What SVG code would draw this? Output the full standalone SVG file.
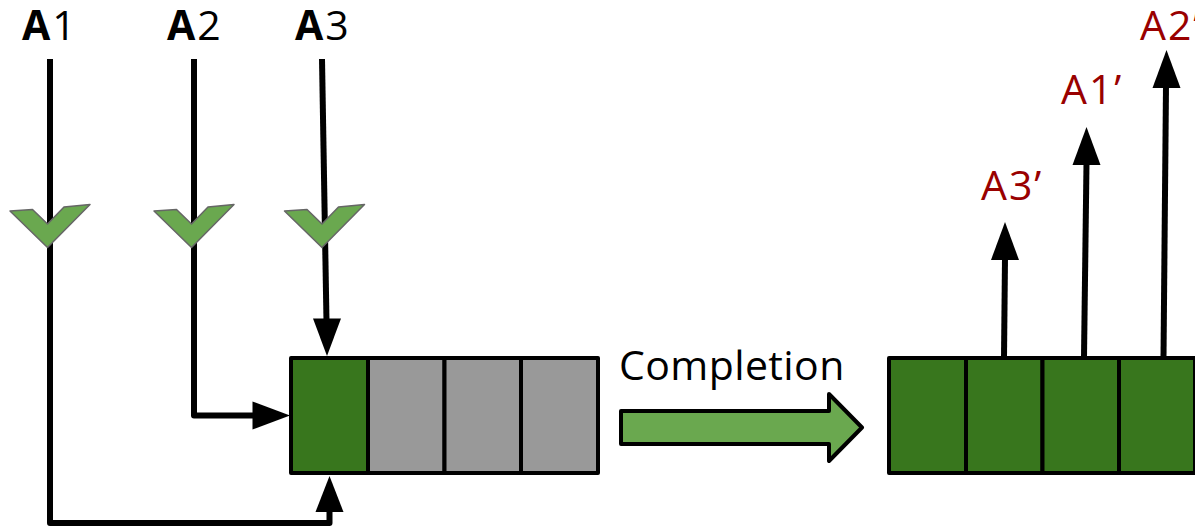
<svg xmlns="http://www.w3.org/2000/svg" width="1195" height="527" viewBox="0 0 1195 527">
<style>
text{font-family:"Open Sans","Noto Sans","Liberation Sans",sans-serif;font-size:41px}
.k{fill:#000}.r{fill:#990000;letter-spacing:2px}.l{letter-spacing:2px}.c{letter-spacing:.4px}.b{font-weight:700}
.cell{stroke:#000;stroke-width:4;stroke-linejoin:round}
.dark{fill:#38761d}.gray{fill:#999999}
.line{fill:none;stroke:#000;stroke-width:6;stroke-linejoin:round}
.head{fill:#000}
.check{fill:#6aa84f;stroke:#666666;stroke-width:1.5;stroke-linejoin:round}
</style>
<rect width="1195" height="527" fill="#fff"/>
<g id="connectors">
<path class="line" d="M50 59V523H329.5V510"/>
<path class="head" d="M329.5 476L343.5 512H315.5Z"/>
<path class="line" d="M194 59V415.5H255"/>
<path class="head" d="M290 415.5L252.5 401.5V429.5Z"/>
<path class="line" d="M322 59L326.5 322"/>
<path class="head" d="M327 356L313 318.5H341Z"/>
<path class="line" d="M1004 357L1005 258"/>
<path class="head" d="M1005 222L1019 260H991Z"/>
<path class="line" d="M1084 357L1086.5 163"/>
<path class="head" d="M1086.5 127L1100.5 165H1072.5Z"/>
<path class="line" d="M1163.5 357L1166 86"/>
<path class="head" d="M1166.5 50L1180.5 88H1152.5Z"/>
</g>
<g id="a1"><text class="k l" x="22" y="40"><tspan class="b">A</tspan>1</text><path class="check" d="M10 211L32.5 209.5L47.5 224L64 207L90 204.5L47.5 247.5Z"/></g>
<g id="a2"><text class="k l" x="167" y="40"><tspan class="b">A</tspan>2</text><path class="check" d="M154 211L176.5 209.5L191.5 224L208 207L234 204.5L191.5 247.5Z"/></g>
<g id="a3"><text class="k l" x="295" y="40"><tspan class="b">A</tspan>3</text><path class="check" d="M284.5 211L307 209.5L322 224L338.500 207L364.500 204.500L322 247.500Z"/></g>
<g id="queue-left">
<rect class="cell dark" x="291" y="358" width="77" height="115"/>
<rect class="cell gray" x="368" y="358" width="76.500" height="115"/>
<rect class="cell gray" x="444.500" y="358" width="76.500" height="115"/>
<rect class="cell gray" x="521" y="358" width="77" height="115"/>
</g>
<g id="completion">
<text class="k c" x="619" y="380">Completion</text>
<path d="M621 411H829V394L862 427.500L829 461V444H621Z" fill="#6aa84f" stroke="#000" stroke-width="4" stroke-linejoin="round"/>
</g>
<g id="queue-right">
<rect class="cell dark" x="889" y="358" width="77" height="115"/>
<rect class="cell dark" x="966" y="358" width="76.500" height="115"/>
<rect class="cell dark" x="1042.500" y="358" width="76.500" height="115"/>
<rect class="cell dark" x="1119" y="358" width="76" height="115"/>
</g>
<g id="a3p"><text class="r" x="981" y="200">A3’</text></g>
<g id="a1p"><text class="r" x="1061" y="104">A1’</text></g>
<g id="a2p"><text class="r" x="1140" y="40">A2’</text></g>
</svg>
